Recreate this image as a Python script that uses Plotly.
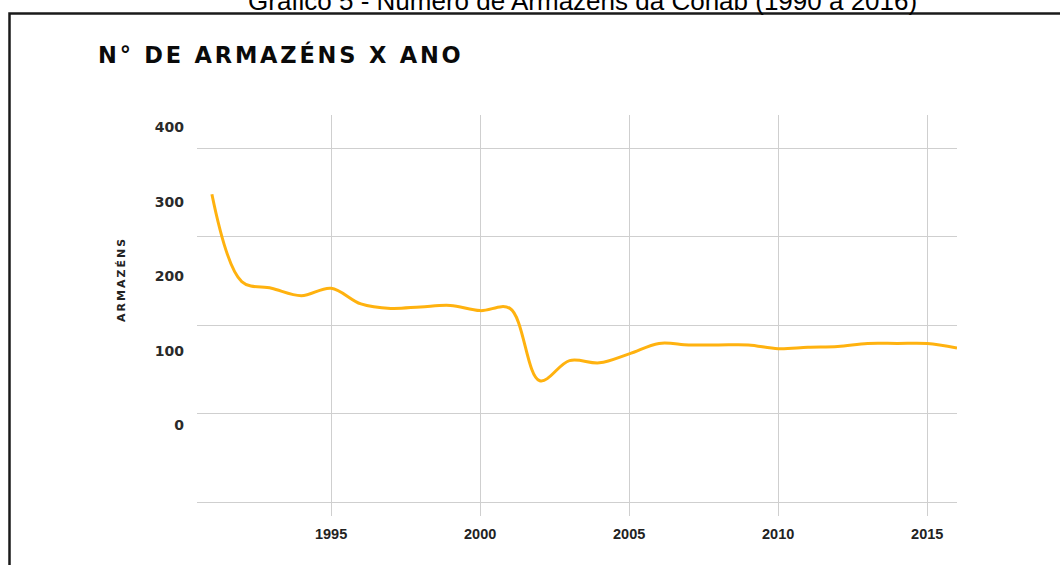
import plotly.graph_objects as go

# ---- data ----
years = list(range(1991, 2017))
armazens = [310, 193, 184, 174, 184, 163, 157, 159, 161, 154, 157, 60, 87, 84,
            96, 110, 108, 108, 108, 103, 105, 106, 110, 110, 110, 104]
x_ticks = [1995, 2000, 2005, 2010, 2015]
y_ticks = [0, 100, 200, 300, 400]
grid_rows = [0, 1, 2, 3, 4]

fig = go.Figure()
fig.add_trace(go.Scatter(
    x=years, y=armazens, mode="lines",
    line=dict(color="#FFB20F", width=3, shape="spline", smoothing=1),
    hoverinfo="x+y", showlegend=False,
))
# helper trace so the grid axis is drawn
fig.add_trace(go.Scatter(x=[], y=[], yaxis="y2", showlegend=False, hoverinfo="skip"))

# plot area in page px = x 197..957, y 115..516 (body margin removed below)
fig.update_layout(
    width=1060, height=565,
    margin=dict(l=197, r=103, t=115, b=49),
    paper_bgcolor="white", plot_bgcolor="white",
    xaxis=dict(
        range=[1990.5, 2016], tickvals=x_ticks, ticktext=[str(v) for v in x_ticks],
        showgrid=True, gridcolor="#cfcfcf", gridwidth=1, zeroline=False, showline=False,
        ticks="", ticklabelstandoff=7,
        tickfont=dict(family="Liberation Sans, Arial", size=14.5, color="#222", weight="bold"),
    ),
    yaxis=dict(
        range=[-121.3, 416.2], tickvals=y_ticks, ticktext=[str(v) for v in y_ticks],
        showgrid=False, zeroline=False, showline=False, ticks="", ticklabelstandoff=12,
        tickfont=dict(family="DejaVu Sans", size=14, color="#2a2a2a", weight="bold"),
    ),
    yaxis2=dict(
        overlaying="y", range=[-0.152, 4.374], tickvals=grid_rows, showticklabels=False,
        showgrid=True, gridcolor="#cfcfcf", gridwidth=1, zeroline=False, showline=False, ticks="",
    ),
    shapes=[dict(
        type="rect", xref="paper", yref="paper",
        x0=(9.5 - 197) / 760, x1=(1080 - 197) / 760,
        y0=(516 - 590) / 401, y1=(516 - 13.5) / 401,
        line=dict(color="#1a1a1a", width=2.5), fillcolor="rgba(0,0,0,0)", layer="below",
    )],
    annotations=[
        dict(text="Gráfico 5 - Número de Armazéns da Conab (1990 a 2016)",
             xref="paper", yref="paper", x=(582 - 197) / 760, y=(516 - 1) / 401,
             xanchor="center", yanchor="middle", showarrow=False,
             font=dict(family="Liberation Sans, Arial", size=26, color="#000")),
        dict(text='<span style="letter-spacing:2.8px">N° DE ARMAZÉNS X ANO</span>',
             xref="paper", yref="paper", x=(96 - 197) / 760, y=(516 - 54) / 401,
             xanchor="left", yanchor="middle", showarrow=False,
             font=dict(family="DejaVu Sans", size=22.5, color="#0a0a0a", weight="bold")),
        dict(text='<span style="letter-spacing:2px">ARMAZÉNS</span>', textangle=-90,
             xref="paper", yref="paper", x=(121 - 197) / 760, y=(516 - 280) / 401,
             xanchor="center", yanchor="middle", showarrow=False,
             font=dict(family="DejaVu Sans", size=11, color="#222", weight="bold")),
    ],
)

fig.write_html("out.html", config={"displayModeBar": False},
               post_script="document.body.style.margin='0px';")
